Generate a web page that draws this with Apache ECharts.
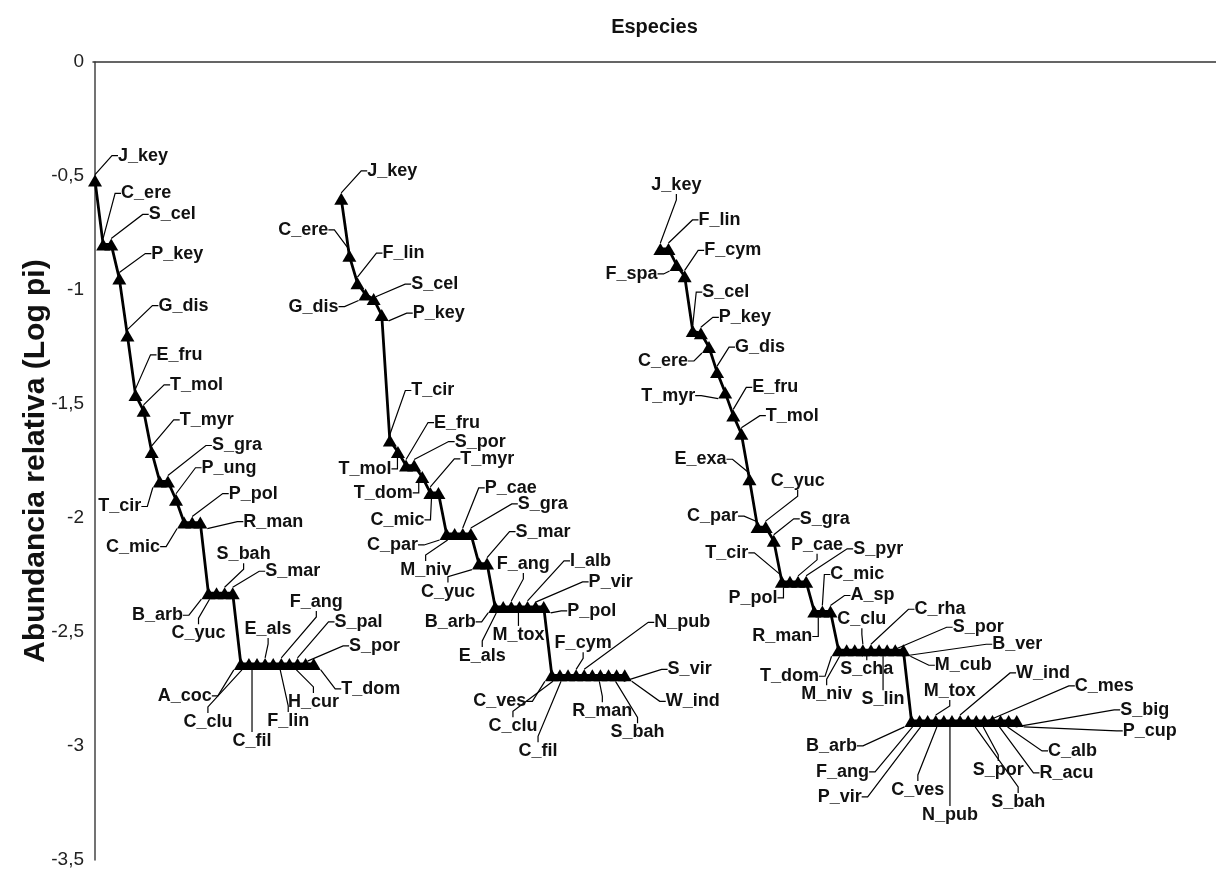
<!DOCTYPE html>
<html>
<head>
<meta charset="utf-8">
<script src="https://cdn.jsdelivr.net/npm/echarts@6/dist/echarts.min.js"></script>
<style>
html,body{margin:0;padding:0;background:#fff;}
#chart{width:1216px;height:878px;}
</style>
</head>
<body>
<div id="chart"></div>
<script>
// ---------------- DATA ----------------
const yTicks = [0, -0.5, -1, -1.5, -2, -2.5, -3, -3.5];

const species1 = ['J_key','C_ere','S_cel','P_key','G_dis','E_fru','T_mol','T_myr','T_cir','S_gra','P_ung',
  'C_mic','P_pol','R_man','B_arb','C_yuc','S_bah','S_mar',
  'A_coc','C_clu','C_fil','E_als','F_lin','F_ang','H_cur','S_pal','S_por','T_dom'];
const logPi1 = [-0.52,-0.80,-0.80,-0.95,-1.20,-1.46,-1.53,-1.71,-1.84,-1.84,-1.92,
  -2.02,-2.02,-2.02,-2.33,-2.33,-2.33,-2.33,
  -2.64,-2.64,-2.64,-2.64,-2.64,-2.64,-2.64,-2.64,-2.64,-2.64];

const species2 = ['J_key','C_ere','F_lin','G_dis','S_cel','P_key','T_cir','T_mol','E_fru','S_por','T_dom',
  'T_myr','C_mic','C_par','M_niv','P_cae','S_gra','C_yuc','S_mar',
  'B_arb','E_als','F_ang','M_tox','I_alb','P_vir','P_pol',
  'C_ves','C_clu','C_fil','F_cym','N_pub','R_man','','S_bah','S_vir','W_ind'];
const logPi2 = [-0.60,-0.85,-0.97,-1.02,-1.04,-1.11,-1.66,-1.71,-1.77,-1.77,-1.82,
  -1.89,-1.89,-2.07,-2.07,-2.07,-2.07,-2.20,-2.20,
  -2.39,-2.39,-2.39,-2.39,-2.39,-2.39,-2.39,
  -2.69,-2.69,-2.69,-2.69,-2.69,-2.69,-2.69,-2.69,-2.69,-2.69];

const species3 = ['J_key','F_lin','F_spa','F_cym','S_cel','P_key','C_ere','G_dis','T_myr','E_fru','T_mol','E_exa',
  'C_par','C_yuc','S_gra','T_cir','P_pol','P_cae','S_pyr','R_man','C_mic','A_sp',
  'T_dom','M_niv','S_cha','C_clu','C_rha','S_lin','S_por','B_ver','M_cub',
  'B_arb','F_ang','P_vir','M_tox','C_ves','N_pub','W_ind','S_bah','S_por','C_mes','R_acu','C_alb','S_big','P_cup'];
const logPi3 = [-0.82,-0.82,-0.89,-0.94,-1.18,-1.19,-1.25,-1.36,-1.45,-1.55,-1.63,-1.83,
  -2.04,-2.04,-2.10,-2.28,-2.28,-2.28,-2.28,-2.41,-2.41,-2.41,
  -2.58,-2.58,-2.58,-2.58,-2.58,-2.58,-2.58,-2.58,-2.58,
  -2.89,-2.89,-2.89,-2.89,-2.89,-2.89,-2.89,-2.89,-2.89,-2.89,-2.89,-2.89,-2.89,-2.89];

// ---------------- LAYOUT (positions of curves on the species axis, label offsets) ----------------
const curveStart = [0, 30.4, 69.8];
const labelDx1 = [48,43,61,58,56,44,53,55,-40,69,53,-51,61,73,-51,-18,19,60,-56,-41,-5,3,15,35,24,61,69,57];
const labelDy1 = [-25,-51,-30,-25,-30,-40,-26,-32,25,-36,-32,24,-29,-1,22,40,-39,-22,32,58,77,-35,57,-62,38,-42,-18,25];
const labelDx2 = [51,-46,46,-52,61,57,43,-33,51,66,-39,57,-41,-54,-29,48,72,-31,56,-45,-21,12,-1,63,75,48,-52,-47,-30,7,98,10,0,29,73,68];
const labelDy2 = [-28,-26,-30,12,-15,-2,-50,17,-43,-24,16,-34,27,11,36,-46,-30,28,-32,15,49,-43,28,-46,-25,4,26,51,76,-32,-53,36,0,57,-6,26];
const labelDx3 = [16,51,-45,48,33,44,-46,43,-57,42,51,-49,-45,32,51,-55,-37,19,72,-32,35,42,-49,-20,12,-1,69,4,91,122,60,-80,-77,-88,14,-26,-2,83,50,22,120,74,72,136,133];
const labelDy3 = [-64,-29,9,-26,-39,-16,14,-25,3,-28,-18,-20,-11,-46,-22,-29,16,-37,-33,25,-37,-16,26,44,19,-31,-41,49,-23,-6,15,25,51,76,-30,69,94,-48,81,49,-35,52,30,-11,10];

const FONT = "'Liberation Sans', Arial, sans-serif";

function buildSeries(names, values, start, dxs, dys) {
  return {
    type: 'line',
    data: names.map((n, i) => ({
      name: n,
      value: [start + i, values[i]],
      label: { show: n !== '' },
      labelLine: { show: n !== '' }
    })),
    symbol: 'triangle',
    symbolSize: [14, 12],
    showSymbol: true,
    showAllSymbol: true,
    itemStyle: { color: '#000' },
    lineStyle: { color: '#000', width: 2.8 },
    label: {
      show: true,
      position: 'inside',
      formatter: '{b}',
      fontFamily: FONT,
      fontWeight: 'bold',
      fontSize: 18,
      color: '#111'
    },
    labelLine: {
      show: true,
      length2: 6,
      smooth: false,
      lineStyle: { color: '#000', width: 1.2 }
    },
    labelLayout: function (p) {
      return { dx: dxs[p.dataIndex], dy: dys[p.dataIndex] };
    },
    emphasis: { disabled: true },
    z: 3
  };
}

const chart = echarts.init(document.getElementById('chart'), null, { renderer: 'canvas' });
chart.setOption({
  animation: false,
  backgroundColor: '#fff',
  grid: { left: 93, right: 0, top: 62, bottom: 18, containLabel: false },
  xAxis: {
    type: 'value',
    position: 'top',
    min: -0.25,
    max: 138.4,
    name: 'Especies',
    nameLocation: 'middle',
    nameGap: 25,
    nameTextStyle: { fontFamily: FONT, fontWeight: 'bold', fontSize: 20, color: '#111' },
    axisLine: { show: true, onZero: false, lineStyle: { color: '#333', width: 1.5 } },
    axisTick: { show: false },
    axisLabel: { show: false },
    splitLine: { show: false }
  },
  yAxis: {
    type: 'value',
    min: yTicks[yTicks.length - 1],
    max: yTicks[0],
    interval: 0.5,
    name: 'Abundancia relativa (Log pi)',
    nameLocation: 'middle',
    nameRotate: 90,
    nameGap: 42,
    nameMoveOverlap: false,
    nameTextStyle: { fontFamily: FONT, fontWeight: 'bold', fontSize: 30, color: '#111' },
    axisLine: { show: true, lineStyle: { color: '#444', width: 1.5 } },
    axisTick: { show: false },
    splitLine: { show: false },
    axisLabel: {
      fontFamily: FONT,
      fontSize: 19,
      color: '#222',
      margin: 9,
      formatter: v => String(v).replace('.', ',')
    }
  },
  series: [
    buildSeries(species1, logPi1, curveStart[0], labelDx1, labelDy1),
    buildSeries(species2, logPi2, curveStart[1], labelDx2, labelDy2),
    buildSeries(species3, logPi3, curveStart[2], labelDx3, labelDy3)
  ]
});
</script>
</body>
</html>
